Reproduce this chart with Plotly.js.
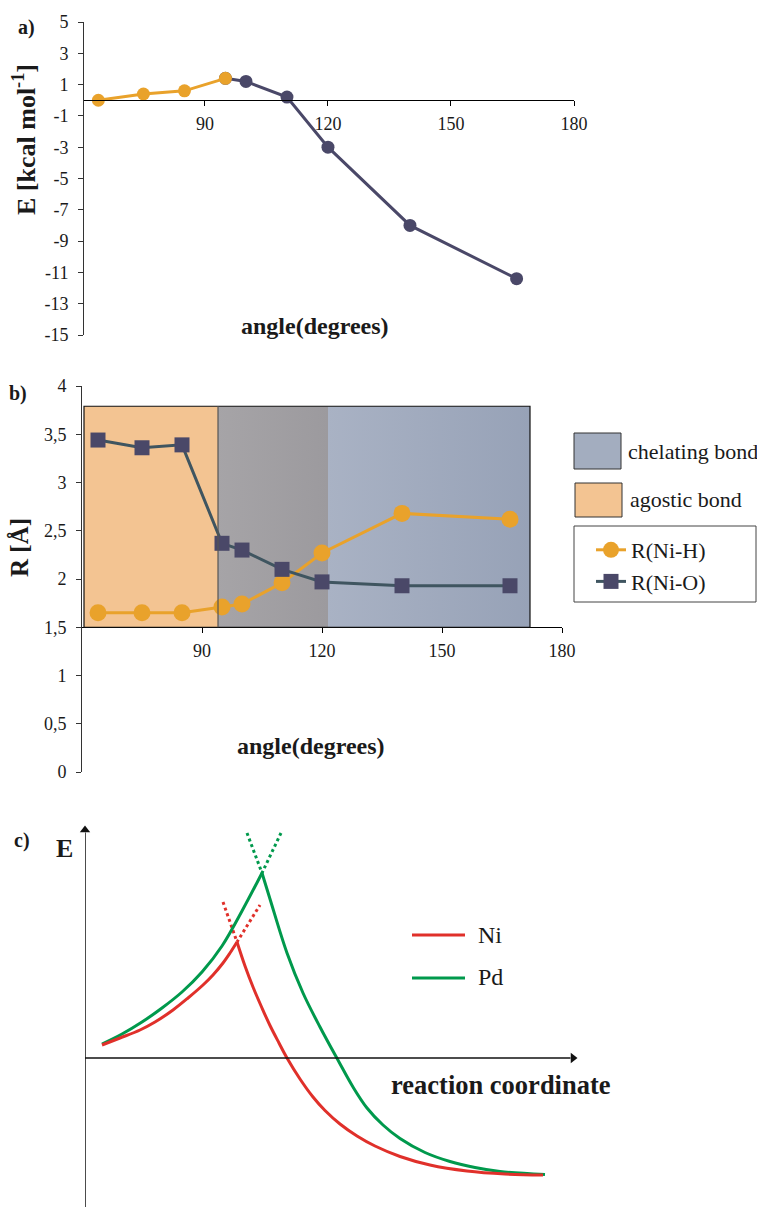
<!DOCTYPE html>
<html><head><meta charset="utf-8">
<script src="https://cdn.plot.ly/plotly-3.0.1.min.js"></script>
<style>html,body{margin:0;padding:0;background:#fff}</style>
</head><body><div id="chart" style="width:757px;height:1207px"></div>
<script>
// ---------- Panel a: energy vs angle ----------
const angleA_agostic = [64, 75, 85, 95];
const energyA_agostic = [0.0, 0.4, 0.6, 1.4];
const angleA_chelating = [95, 100, 110, 120, 140, 166];
const energyA_chelating = [1.4, 1.2, 0.2, -3.0, -8.0, -11.4];
const ticksA_x = [90, 120, 150, 180];
const ticksA_y = [-15, -13, -11, -9, -7, -5, -3, -1, 1, 3, 5];
const tickTextA_y = ['-15', '-13', '-11', '-9', '-7', '-5', '-3', '-1', '1', '3', '5'];

// ---------- Panel b: distances vs angle ----------
const angleB = [64, 75, 85, 95, 100, 110, 120, 140, 167];
const rNiH = [1.65, 1.65, 1.65, 1.71, 1.74, 1.96, 2.27, 2.68, 2.62];
const rNiO = [3.44, 3.36, 3.39, 2.37, 2.30, 2.10, 1.97, 1.93, 1.93];
const regionAgostic = [60.5, 94];
const regionMiddle = [94, 121.5];
const regionChelating = [121.5, 172];
const regionY = [1.5, 3.79];
const ticksB_x = [90, 120, 150, 180];

// ---------- Panel c: schematic energy profiles ----------
const niRiseX = [3.4, 7.0, 11.0, 14.0, 17.6, 20.6, 23.6, 25.6, 27.6, 29.0, 30.4];
const niRiseY = [2.6, 4.0, 5.6, 7.2, 9.6, 12.0, 14.6, 16.6, 19.0, 21.0, 23.2];
const niFallX = [30.4, 32.0, 33.6, 35.4, 37.0, 38.8, 40.4, 43.0, 45.6, 48.0, 51.0, 54.4, 58.0, 63.0, 69.0, 76.4, 84.0, 91.6];
const niFallY = [23.2, 18.4, 14.2, 10.0, 6.5, 3.0, 0.0, -4.2, -7.8, -10.5, -13.2, -15.6, -17.6, -19.7, -21.4, -22.6, -23.2, -23.4];
const niDotX = [27.6, 30.4, 35.0];
const niDotY = [31.2, 23.2, 30.6];
const pdRiseX = [3.4, 7.4, 11.4, 15.4, 19.4, 23.4, 27.4, 31.4, 35.4];
const pdRiseY = [2.8, 4.8, 7.2, 10.0, 13.2, 17.2, 22.4, 29.4, 37.0];
const pdFallX = [35.4, 37.0, 40.4, 43.6, 47.0, 50.8, 53.6, 56.4, 59.6, 63.0, 68.0, 73.0, 78.0, 83.0, 92.0];
const pdFallY = [37.0, 31.8, 21.0, 13.0, 6.2, -0.8, -5.8, -10.0, -13.4, -16.1, -18.9, -20.7, -21.9, -22.7, -23.3];
const pdDotX = [32.4, 35.4, 39.2];
const pdDotY = [45.0, 37.0, 45.0];

const ORANGE = '#E9A22B', NAVY = '#4A4868', SLATE = '#3F5560';
const RED = '#E0302A', GREEN = '#00994C';
const FONT = 'Liberation Serif, Times New Roman, serif';
const W = 757, H = 1207;
const px = v => v / W;
const py = v => 1 - v / H;

// domains
const xDomA = [px(84), px(574)], yDomA = [py(335), py(22)];
const rangeAy = [-15, 5];
const xDomB = [px(82), px(562)], yDomB = [py(772), py(386)];
const rangeBy = [0, 4];
const xDomC = [px(85), px(585)], yDomC = [0, py(825)];
const rangeCx = [0, 100], rangeCy = [-29.8, 46.6];
const xArrowEnd = 98.6;

const posA = yDomA[0] + (0 - rangeAy[0]) / (rangeAy[1] - rangeAy[0]) * (yDomA[1] - yDomA[0]);
const posB = yDomB[0] + (1.5 - rangeBy[0]) / (rangeBy[1] - rangeBy[0]) * (yDomB[1] - yDomB[0]);

function rectTrace(r, fill, grad) {
  const t = {
    x: [r[0], r[1], r[1], r[0], r[0]],
    y: [regionY[0], regionY[0], regionY[1], regionY[1], regionY[0]],
    xaxis: 'x2', yaxis: 'y2', mode: 'none', fill: 'toself', fillcolor: fill,
    hoverinfo: 'skip', showlegend: false
  };
  if (grad) t.fillgradient = {type: 'horizontal', colorscale: grad};
  return t;
}
function curve(x, y, color, dash) {
  return {x: x, y: y, xaxis: 'x3', yaxis: 'y3', mode: 'lines', hoverinfo: 'skip', showlegend: false,
    line: dash ? {color: color, width: 3, dash: 'dot'} : {color: color, width: 3, shape: 'spline', smoothing: 1}};
}

const traces = [
  // panel a
  {x: angleA_chelating, y: energyA_chelating, xaxis: 'x', yaxis: 'y', mode: 'lines+markers',
   line: {color: NAVY, width: 3}, marker: {color: NAVY, size: 13}, showlegend: false},
  {x: angleA_agostic, y: energyA_agostic, xaxis: 'x', yaxis: 'y', mode: 'lines+markers',
   line: {color: ORANGE, width: 3}, marker: {color: ORANGE, size: 13}, showlegend: false},
  // panel b regions
  rectTrace(regionAgostic, '#F3C492'),
  rectTrace(regionMiddle, '#A19FA2', [[0, '#A6A4A7'], [1, '#9C9A9E']]),
  rectTrace(regionChelating, '#A2ACBF', [[0, '#A9B2C4'], [1, '#97A2B7']]),
  // panel b series
  {x: angleB, y: rNiH, name: 'R(Ni-H)', xaxis: 'x2', yaxis: 'y2', mode: 'lines+markers',
   line: {color: ORANGE, width: 3}, marker: {color: ORANGE, size: 17, symbol: 'circle'}},
  {x: angleB, y: rNiO, name: 'R(Ni-O)', xaxis: 'x2', yaxis: 'y2', mode: 'lines+markers',
   line: {color: SLATE, width: 3}, marker: {color: NAVY, size: 15, symbol: 'square'}},
  // panel c
  curve(pdDotX, pdDotY, GREEN, true),
  curve(niDotX, niDotY, RED, true),
  curve(pdRiseX, pdRiseY, GREEN),
  curve(pdFallX, pdFallY, GREEN),
  curve(niRiseX, niRiseY, RED),
  curve(niFallX, niFallY, RED),
  // panel c axis arrowheads
  {x: [0, xArrowEnd - 1.0], y: [rangeCy[1] - 1.0, 0], xaxis: 'x3', yaxis: 'y3', mode: 'markers',
   hoverinfo: 'skip', showlegend: false, cliponaxis: false,
   marker: {symbol: ['triangle-up', 'triangle-right'], size: 9, color: '#111', line: {width: 0}}}
];

const tickFont = {family: FONT, size: 18, color: '#1a1a1a'};
const commonX = {showgrid: false, zeroline: false, showline: true, linecolor: '#000', linewidth: 1,
  ticks: 'outside', ticklen: 5, tickcolor: '#000', tickwidth: 1, tickfont: tickFont, fixedrange: true,
  ticklabelstandoff: 2};
const commonY = {showgrid: false, zeroline: false, showline: true, linecolor: '#333', linewidth: 1,
  ticks: 'outside', ticklen: 5, tickcolor: '#333', tickwidth: 1, tickfont: tickFont, fixedrange: true,
  ticklabelstandoff: 6};

function ann(text, x, y, size, extra) {
  return Object.assign({text: text, x: px(x), y: py(y), xref: 'paper', yref: 'paper', showarrow: false,
    font: {family: FONT, size: size, color: '#1a1a1a'}, xanchor: 'center', yanchor: 'middle'}, extra || {});
}

const annotations = [
  ann('<b>a)</b>', 26, 27, 20),
  ann('<b>E [kcal mol<sup>-1</sup>]</b>', 24, 140, 26, {textangle: -90}),
  ann('<b>angle(degrees)</b>', 315, 326, 24),
  ann('<b>b)</b>', 18, 393, 20),
  ann('<b>R [Å]</b>', 19, 548, 25, {textangle: -90}),
  ann('<b>angle(degrees)</b>', 311, 746, 24),
  ann('chelating bond', 626, 451, 22, {xanchor: 'left'}),
  ann('agostic bond', 628, 500, 22, {xanchor: 'left'}),
  ann('<b>c)</b>', 22, 840, 20),
  ann('<b>E</b>', 64, 848, 26),
  ann('<b>reaction coordinate</b>', 501, 1085, 26.5),
  ann('Ni', 476, 935, 24, {xanchor: 'left'}),
  ann('Pd', 476, 977, 24, {xanchor: 'left'})
];

const shapes = [
  {type: 'rect', xref: 'x2', yref: 'y2', x0: regionAgostic[0], x1: regionChelating[1], y0: regionY[0], y1: regionY[1],
   line: {color: '#111', width: 1.2}, fillcolor: 'rgba(0,0,0,0)'},
  {type: 'line', xref: 'x2', yref: 'y2', x0: regionMiddle[0], x1: regionMiddle[0], y0: regionY[0], y1: regionY[1],
   line: {color: '#555', width: 1.2}},
  {type: 'rect', xref: 'paper', yref: 'paper', x0: px(574), x1: px(621), y0: py(469), y1: py(433),
   fillcolor: '#A3ADBF', line: {color: '#333', width: 1}},
  {type: 'rect', xref: 'paper', yref: 'paper', x0: px(575), x1: px(622), y0: py(517), y1: py(483),
   fillcolor: '#F3C492', line: {color: '#333', width: 1}},
  {type: 'rect', xref: 'paper', yref: 'paper', x0: px(574), x1: px(756), y0: py(602), y1: py(526),
   fillcolor: 'rgba(0,0,0,0)', line: {color: '#444', width: 1}},
  {type: 'line', xref: 'paper', yref: 'paper', x0: px(412), x1: px(465), y0: py(935), y1: py(935),
   line: {color: RED, width: 3}},
  {type: 'line', xref: 'paper', yref: 'paper', x0: px(412), x1: px(465), y0: py(978), y1: py(978),
   line: {color: GREEN, width: 3}},
  // panel c axes
  {type: 'line', xref: 'x3', yref: 'y3', x0: 0, x1: 0, y0: rangeCy[0], y1: rangeCy[1] - 1.5,
   line: {color: '#111', width: 1.5}},
  {type: 'line', xref: 'x3', yref: 'y3', x0: 0, x1: xArrowEnd - 1.5, y0: 0, y1: 0,
   line: {color: '#111', width: 1.5}}
];

const layout = {
  width: W, height: H, margin: {l: 0, r: 0, t: 0, b: 0},
  paper_bgcolor: '#fff', plot_bgcolor: 'rgba(0,0,0,0)',
  separators: ', ',
  font: {family: FONT, size: 18, color: '#1a1a1a'},
  xaxis: Object.assign({}, commonX, {domain: xDomA, range: [60.5, 180], anchor: 'free', position: posA, tickvals: ticksA_x}),
  yaxis: Object.assign({}, commonY, {domain: yDomA, range: rangeAy, anchor: 'x', tickvals: ticksA_y, ticktext: tickTextA_y}),
  xaxis2: Object.assign({}, commonX, {domain: xDomB, range: [60, 180], anchor: 'free', position: posB, tickvals: ticksB_x}),
  yaxis2: Object.assign({}, commonY, {domain: yDomB, range: rangeBy, anchor: 'x2', tick0: 0, dtick: 0.5}),
  xaxis3: {domain: xDomC, range: rangeCx, visible: false, anchor: 'y3', fixedrange: true},
  yaxis3: {domain: yDomC, range: rangeCy, visible: false, anchor: 'x3', fixedrange: true},
  showlegend: true,
  legend: {x: px(591), y: py(529), xanchor: 'left', yanchor: 'top', bgcolor: 'rgba(0,0,0,0)',
    borderwidth: 0, font: {family: FONT, size: 22, color: '#1a1a1a'}, tracegroupgap: 0},
  annotations: annotations,
  shapes: shapes
};

Plotly.newPlot('chart', traces, layout, {displayModeBar: false, staticPlot: true});
</script></body></html>
